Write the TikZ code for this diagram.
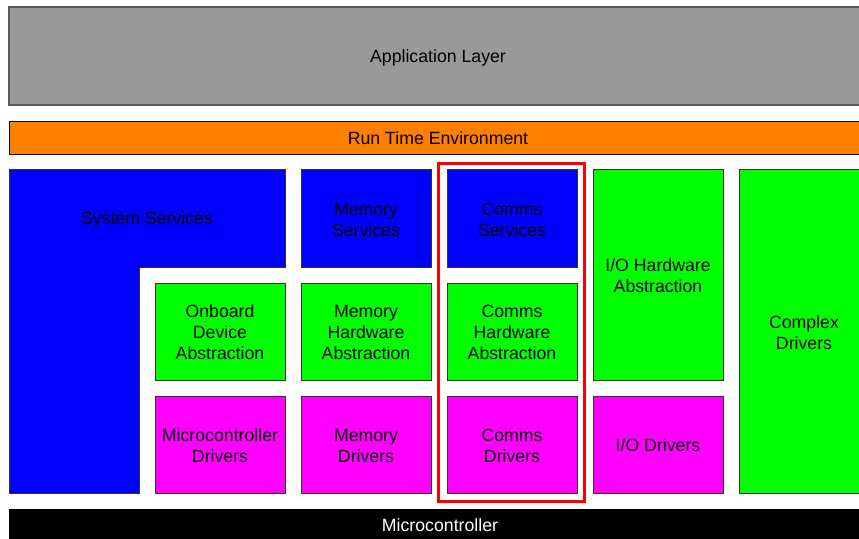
\documentclass[tikz,border=0pt]{standalone}
\usepackage{fontspec}
\setmainfont{Liberation Sans}
\definecolor{appgray}{HTML}{999999}
\definecolor{rteorange}{HTML}{FF8000}
\definecolor{bsblue}{HTML}{0000FF}
\definecolor{bsgreen}{HTML}{00FF00}
\definecolor{bsmagenta}{HTML}{FF00FF}
\definecolor{edge}{HTML}{333333}
\begin{document}
\begin{tikzpicture}[x=1pt,y=-1pt,
  lbl/.style={font=\fontsize{17.7}{21}\selectfont, align=center, text=black, inner sep=0pt, yshift=-1.5pt},
  cell/.style={draw=edge, line width=0.9pt},
]
\useasboundingbox (0,0) rectangle (859,538);
\begin{scope}
\clip (0,0) rectangle (859,538);
% Application layer
\fill[appgray, draw=black!65, line width=1.6pt] (9,7) rectangle (870,105);
\node[lbl] (app) at (438,56) {Application Layer};
% RTE
\fill[rteorange, draw=black, line width=1pt] (9,121) rectangle (870,154);
\node[lbl] (rte) at (438,137) {Run Time Environment};
% System services L-shape
\filldraw[fill=bsblue, cell] (9,169) -- (285,169) -- (285,267) -- (139,267) -- (139,493) -- (9,493) -- cycle;
\node[lbl] (sys) at (147,218) {System Services};
% row 1
\filldraw[fill=bsblue, cell] (301,169) rectangle (431,267);
\node[lbl] (memsvc) at (366,218) {Memory\\Services};
\filldraw[fill=bsblue, cell] (447,169) rectangle (577,267);
\node[lbl] (comsvc) at (512,218) {Comms\\Services};
% row 2
\filldraw[fill=bsgreen, cell] (155,283) rectangle (285,380);
\node[lbl] (onb) at (220,331) {Onboard\\Device\\Abstraction};
\filldraw[fill=bsgreen, cell] (301,283) rectangle (431,380);
\node[lbl] (memhw) at (366,331) {Memory\\Hardware\\Abstraction};
\filldraw[fill=bsgreen, cell] (447,283) rectangle (577,380);
\node[lbl] (comhw) at (512,331) {Comms\\Hardware\\Abstraction};
% I/O HW abstraction
\filldraw[fill=bsgreen, cell] (593,169) rectangle (723,380);
\node[lbl] (iohw) at (658,274) {I/O Hardware\\Abstraction};
% Complex drivers
\filldraw[fill=bsgreen, cell] (739,169) rectangle (870,493);
\node[lbl] (cdd) at (804,331) {Complex\\Drivers};
% row 3
\filldraw[fill=bsmagenta, cell] (155,396) rectangle (285,493);
\node[lbl] (mcal) at (220,444) {Microcontroller\\Drivers};
\filldraw[fill=bsmagenta, cell] (301,396) rectangle (431,493);
\node[lbl] (memdrv) at (366,444) {Memory\\Drivers};
\filldraw[fill=bsmagenta, cell] (447,396) rectangle (577,493);
\node[lbl] (comdrv) at (512,444) {Comms\\Drivers};
\filldraw[fill=bsmagenta, cell] (593,396) rectangle (723,493);
\node[lbl] (iodrv) at (658,444) {I/O Drivers};
% Microcontroller
\fill[black] (9,509) rectangle (870,545);
\node[lbl, text=white] (mcu) at (440,524) {Microcontroller};
% highlight
\draw[red, line width=3pt] (438.5,163) rectangle (584.5,501);
\end{scope}
\end{tikzpicture}
\end{document}
